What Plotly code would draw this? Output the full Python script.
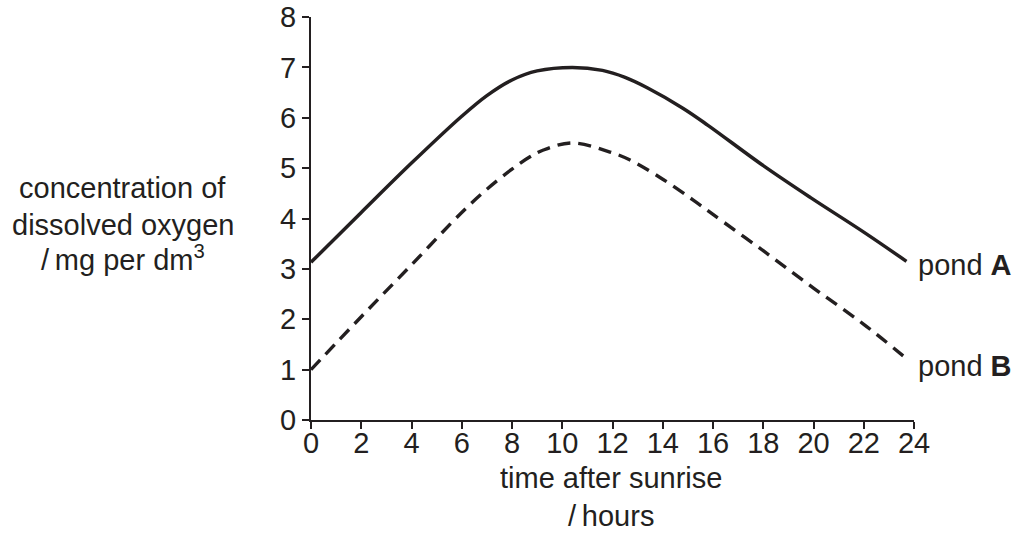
import plotly.graph_objects as go

# Data
time_a = [0, 2, 4, 6, 7, 8, 9, 10.4, 11.6, 12.5, 13.4, 14.8, 15.8, 18, 19.9, 22, 23.7]
pond_a = [3.13, 4.12, 5.1, 6.03, 6.44, 6.75, 6.93, 7.0, 6.94, 6.8, 6.59, 6.19, 5.85, 5.05, 4.41, 3.73, 3.15]
time_b = [0, 2, 4, 6, 7, 8, 8.7, 9.25, 10.4, 11.9, 12.7, 14, 15.2, 16, 18, 20, 22, 23.7]
pond_b = [1.0, 2.05, 3.08, 4.12, 4.58, 4.98, 5.22, 5.36, 5.5, 5.32, 5.16, 4.78, 4.37, 4.08, 3.36, 2.62, 1.9, 1.22]
x_ticks = list(range(0, 25, 2))
y_ticks = list(range(0, 9))
y_title_lines = ["concentration of", "dissolved oxygen", "/\u2009mg per dm<sup>3</sup>"]
x_title_lines = ["time after sunrise", "/\u2009hours"]
series_labels = ["pond <b>A</b>", "pond <b>B</b>"]

INK = "#231f20"
FONT = "Liberation Sans, Arial, sans-serif"
FS = 29

fig = go.Figure()
fig.add_trace(go.Scatter(x=time_a, y=pond_a, mode="lines",
                         line=dict(color=INK, width=3.5, shape="spline", smoothing=1.0),
                         showlegend=False, hoverinfo="skip"))
fig.add_trace(go.Scatter(x=time_b, y=pond_b, mode="lines",
                         line=dict(color=INK, width=3.4, shape="spline", smoothing=1.0, dash="13px,8px"),
                         showlegend=False, hoverinfo="skip"))

axis_common = dict(showgrid=False, zeroline=False, automargin=False,
                   showline=True, linecolor=INK, linewidth=2,
                   ticks="outside", ticklen=7, tickwidth=2, tickcolor=INK,
                   ticklabeloverflow="allow",
                   tickfont=dict(size=FS, family=FONT, color=INK))

fig.update_layout(
    width=1018, height=536,
    margin=dict(l=311, r=104, t=17, b=116),
    paper_bgcolor="white", plot_bgcolor="white",
    font=dict(family=FONT, size=FS, color=INK),
    xaxis=dict(range=[0, 24], tickvals=x_ticks, ticklabelstandoff=-11, **axis_common),
    yaxis=dict(range=[0, 8], tickvals=y_ticks, **axis_common),
)

PW, PH = 603.0, 403.0  # plot area size in px


def px_to_paper_x(px):
    return (px - 311) / PW


def px_to_paper_y(py):
    return (420 - py) / PH


annos = []
for line, cy in zip(y_title_lines, [188, 225, 258]):
    annos.append(dict(text=line, x=px_to_paper_x(123), y=px_to_paper_y(cy),
                      xref="paper", yref="paper", xanchor="center", yanchor="middle",
                      showarrow=False))
for line, cy in zip(x_title_lines, [478, 516]):
    annos.append(dict(text=line, x=px_to_paper_x(611), y=px_to_paper_y(cy),
                      xref="paper", yref="paper", xanchor="center", yanchor="middle",
                      showarrow=False))
annos.append(dict(text=series_labels[0], x=px_to_paper_x(916), y=px_to_paper_y(265),
                  xref="paper", yref="paper", xanchor="left", yanchor="middle", showarrow=False))
annos.append(dict(text=series_labels[1], x=px_to_paper_x(916), y=px_to_paper_y(366),
                  xref="paper", yref="paper", xanchor="left", yanchor="middle", showarrow=False))
for a in annos:
    a["font"] = dict(family=FONT, size=FS, color=INK)
fig.update_layout(annotations=annos)

fig.write_html("out.html", config={"displayModeBar": False},
               post_script="document.body.style.margin='0px';")
